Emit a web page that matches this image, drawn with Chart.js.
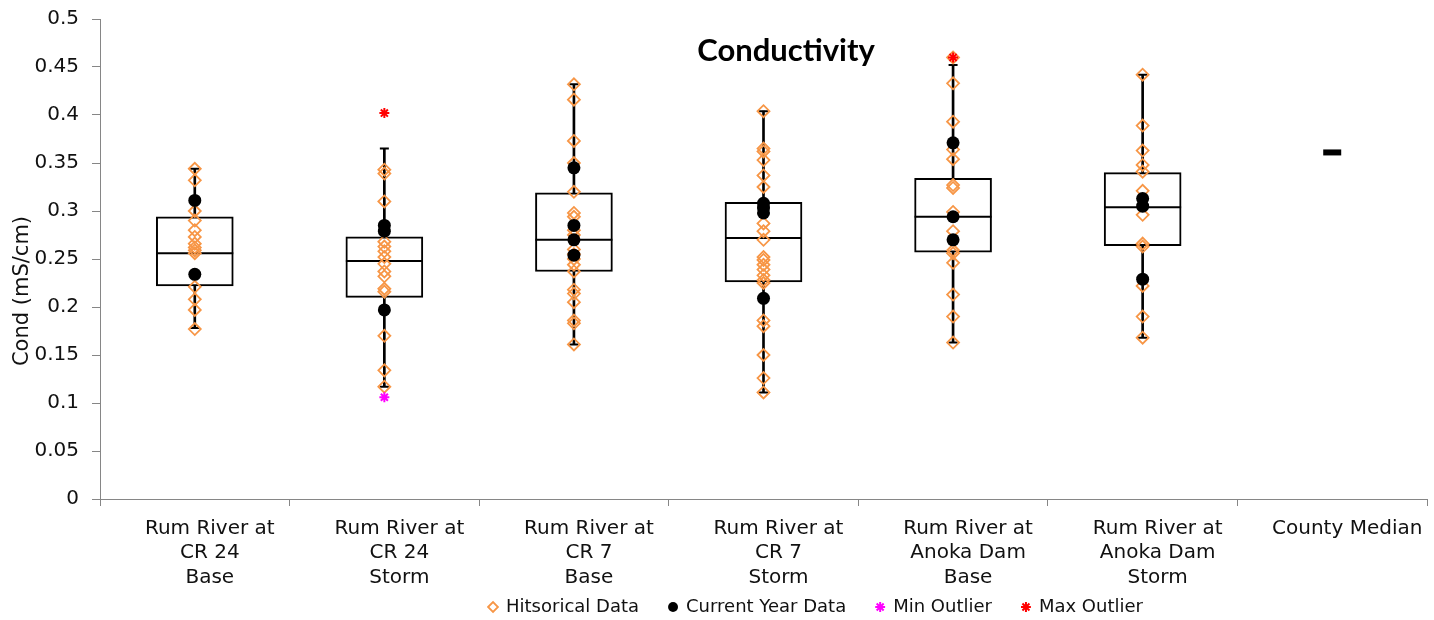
<!DOCTYPE html>
<html>
<head>
  <title>Conductivity</title>
  <script src="https://cdn.jsdelivr.net/npm/chart.js"></script>
  <style>
    body { margin: 0; background: #fff; }
  </style>
</head>
<body>
  <canvas id="condChart" width="1434" height="620"></canvas>

  <script>
    // sites (x categories)
    const sites = ['CR 24 Base', 'CR 24 Storm', 'CR 7 Base', 'CR 7 Storm', 'Anoka Dam Base', 'Anoka Dam Storm', 'County Median'];
    const siteLines = [
      ['Rum River at', 'CR 24', 'Base'],
      ['Rum River at', 'CR 24', 'Storm'],
      ['Rum River at', 'CR 7', 'Base'],
      ['Rum River at', 'CR 7', 'Storm'],
      ['Rum River at', 'Anoka Dam', 'Base'],
      ['Rum River at', 'Anoka Dam', 'Storm'],
      ['County Median']
    ];
    const yTicks = [0, 0.05, 0.1, 0.15, 0.2, 0.25, 0.3, 0.35, 0.4, 0.45, 0.5];

    // box plot stats
    const whiskerLow  = [0.178, 0.117, 0.161, 0.111, 0.163, 0.168, null];
    const boxLow      = [0.222, 0.210, 0.237, 0.226, 0.257, 0.264, null];
    const boxMedian   = [0.256, 0.248, 0.270, 0.272, 0.294, 0.304, null];
    const boxHigh     = [0.294, 0.273, 0.319, 0.309, 0.334, 0.340, null];
    const whiskerHigh = [0.344, 0.365, 0.432, 0.404, 0.452, 0.442, null];
    const countyMedian = 0.361;

    // historical samples per site
    const historical = [
      [0.344, 0.332, 0.300, 0.290, 0.280, 0.273, 0.266, 0.262, 0.259, 0.256, 0.221, 0.208, 0.197, 0.177],
      [0.343, 0.339, 0.310, 0.268, 0.263, 0.258, 0.252, 0.245, 0.237, 0.232, 0.219, 0.216, 0.170, 0.134, 0.117],
      [0.432, 0.416, 0.373, 0.350, 0.320, 0.298, 0.294, 0.280, 0.275, 0.260, 0.255, 0.250, 0.244, 0.237, 0.218, 0.214, 0.205, 0.186, 0.183, 0.161],
      [0.404, 0.365, 0.362, 0.353, 0.337, 0.325, 0.287, 0.279, 0.270, 0.252, 0.249, 0.244, 0.239, 0.233, 0.228, 0.225, 0.186, 0.180, 0.150, 0.126, 0.111],
      [0.460, 0.433, 0.393, 0.364, 0.354, 0.327, 0.324, 0.299, 0.279, 0.259, 0.256, 0.246, 0.213, 0.190, 0.163],
      [0.442, 0.389, 0.363, 0.348, 0.341, 0.321, 0.296, 0.266, 0.263, 0.222, 0.190, 0.168],
      []
    ];
    // current year samples
    const current = [
      [0.311, 0.234],
      [0.285, 0.279, 0.197],
      [0.345, 0.285, 0.270, 0.254],
      [0.308, 0.303, 0.298, 0.209],
      [0.371, 0.294, 0.270],
      [0.313, 0.305, 0.229],
      []
    ];
    const minOutliers = [[], [0.106], [], [], [], [], []];
    const maxOutliers = [[], [0.402], [], [], [0.460], [], []];

    const ORANGE = '#F79646';
    const AXIS = '#868686';

    function toPoints(lists) {
      return lists.flatMap((vals, i) => vals.map(v => ({ x: sites[i], y: v })));
    }
    function statPoints(arr) {
      return arr.map((v, i) => v == null ? null : { x: sites[i], y: v }).filter(p => p);
    }

    // titles + legend placement
    const layoutPlugin = {
      id: 'condLayout',
      afterInit(chart) {
        const lg = chart.legend;
        const fit = lg.fit.bind(lg);
        lg.fit = function () { fit(); this.height = 24; };
      },
      afterLayout(chart) {
        const lg = chart.legend;
        const d = 816 - (lg.left + lg.right) / 2;
        lg.left += d;
        lg.right += d;
        lg.top -= 26;  // legend overlaps the bottom of the label block
      },
      afterDraw(chart) {
        const a = chart.chartArea;
        const ctx = chart.ctx;
        ctx.save();
        ctx.fillStyle = '#000';
        ctx.textAlign = 'center';
        ctx.textBaseline = 'middle';
        ctx.font = 'bold 31px Lato';
        ctx.fillText('Conductivity', a.left + (a.right - a.left) * 0.517, a.top + 32);
        ctx.translate(23, 291);
        ctx.rotate(-Math.PI / 2);
        ctx.fillStyle = '#111';
        ctx.font = '21px "DejaVu Sans"';
        ctx.fillText('Cond (mS/cm)', 0, 0);
        ctx.restore();
      }
    };

    Chart.defaults.font.family = 'DejaVu Sans';
    Chart.defaults.color = '#111';

    const ctx = document.getElementById('condChart').getContext('2d');
    new Chart(ctx, {
      type: 'bar',
      data: {
        labels: sites,
        datasets: [
          {
            type: 'scatter', label: 'Hitsorical Data', order: 2,
            data: toPoints(historical),
            pointStyle: 'rectRot', radius: 6, borderWidth: 1.8,
            borderColor: ORANGE, backgroundColor: 'rgba(255,255,255,0)'
          },
          {
            type: 'scatter', label: 'Current Year Data', order: 1,
            data: toPoints(current),
            pointStyle: 'circle', radius: 6.5, borderWidth: 0,
            borderColor: '#000', backgroundColor: '#000'
          },
          {
            type: 'scatter', label: 'Min Outlier', order: 0,
            data: toPoints(minOutliers),
            pointStyle: 'star', radius: 5, borderWidth: 2,
            borderColor: '#FF00FF', backgroundColor: '#FF00FF'
          },
          {
            type: 'scatter', label: 'Max Outlier', order: 0,
            data: toPoints(maxOutliers),
            pointStyle: 'star', radius: 5, borderWidth: 2,
            borderColor: '#FF0000', backgroundColor: '#FF0000'
          },
          {
            // whisker caps
            type: 'scatter', label: 'caps', order: 3,
            data: statPoints(whiskerLow).concat(statPoints(whiskerHigh)),
            pointStyle: 'line', radius: 4.5, borderWidth: 2, borderColor: '#000'
          },
          {
            type: 'scatter', label: 'median', order: 4,
            data: statPoints(boxMedian),
            pointStyle: 'line', radius: 38.5, borderWidth: 2, borderColor: '#000'
          },
          {
            type: 'scatter', label: 'county', order: 4,
            data: [{ x: sites[6], y: countyMedian }],
            pointStyle: 'line', radius: 9, borderWidth: 6, borderColor: '#000'
          },
          {
            label: 'box', order: 5, grouped: false,
            data: sites.map((s, i) => boxLow[i] == null ? null : [boxLow[i], boxHigh[i]]),
            backgroundColor: '#fff', borderColor: '#000', borderWidth: 2,
            borderSkipped: false, barThickness: 77
          },
          {
            label: 'whisker', order: 6, grouped: false,
            data: sites.map((s, i) => whiskerLow[i] == null ? null : [whiskerLow[i], whiskerHigh[i]]),
            backgroundColor: '#000', borderWidth: 0, barThickness: 2
          }
        ]
      },
      options: {
        responsive: false,
        animation: false,
        layout: { autoPadding: false, padding: { top: 19, right: 7, left: 0, bottom: 2 } },
        scales: {
          x: {
            type: 'category',
            offset: true,
            grid: { offset: true, drawOnChartArea: false, color: AXIS, tickLength: 7 },
            border: { color: AXIS },
            ticks: {
              callback: (v, i) => siteLines[i],
              font: { size: 20, lineHeight: 1.23 },
              maxRotation: 0, autoSkip: false, labelOffset: 15, padding: 10
            },
            afterFit: s => { s.height = 95; s.paddingLeft = 0; s.paddingRight = 0; }
          },
          y: {
            type: 'linear', min: 0, max: 0.5,
            afterBuildTicks: s => { s.ticks = yTicks.map(v => ({ value: v })); },
            grid: { drawOnChartArea: false, color: AXIS, tickLength: 8 },
            border: { color: AXIS },
            ticks: { callback: v => String(v), font: { size: 20 }, padding: 13 },
            afterFit: s => { s.width = 100; s.paddingTop = 0; s.paddingBottom = 0; }
          }
        },
        plugins: {
          tooltip: { enabled: false },
          legend: {
            position: 'bottom',
            labels: {
              usePointStyle: true, boxWidth: 8, boxHeight: 7,
              padding: 30, font: { size: 18 },
              filter: item => item.datasetIndex <= 3,
              sort: (a, b) => a.datasetIndex - b.datasetIndex
            }
          }
        }
      },
      plugins: [layoutPlugin]
    });
  </script>
</body>
</html>
